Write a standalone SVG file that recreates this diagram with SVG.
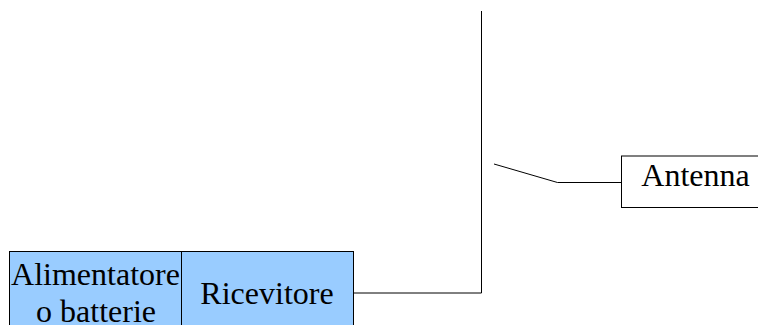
<svg xmlns="http://www.w3.org/2000/svg" width="758" height="325" viewBox="0 0 758 325">
<style>
.n{stroke:#000;stroke-width:1}
.b{fill:#99ccff}
.w{fill:#fff}
.c{fill:none;stroke:#000;stroke-width:1}
text{font-family:"Liberation Serif","Times New Roman",serif;font-size:32px;fill:#000;text-anchor:middle}
</style>
<rect width="758" height="325" fill="#fff"/>
<g id="connectors">
<path class="c" d="M481.500 11V293H354"/>
<path class="c" d="M494 164L557.500 182.500H621"/>
</g>
<g id="alimentatore">
<rect class="n b" x="9.500" y="251.500" width="172" height="80"/>
<text x="95.500" y="285">Alimentatore</text>
<text x="96" y="322">o batterie</text>
</g>
<g id="ricevitore">
<rect class="n b" x="181.500" y="251.500" width="172" height="80"/>
<text x="267" y="304">Ricevitore</text>
</g>
<g id="antenna">
<rect class="n w" x="621.500" y="156" width="145" height="51.500"/>
<text x="695.500" y="186">Antenna</text>
</g>
</svg>
